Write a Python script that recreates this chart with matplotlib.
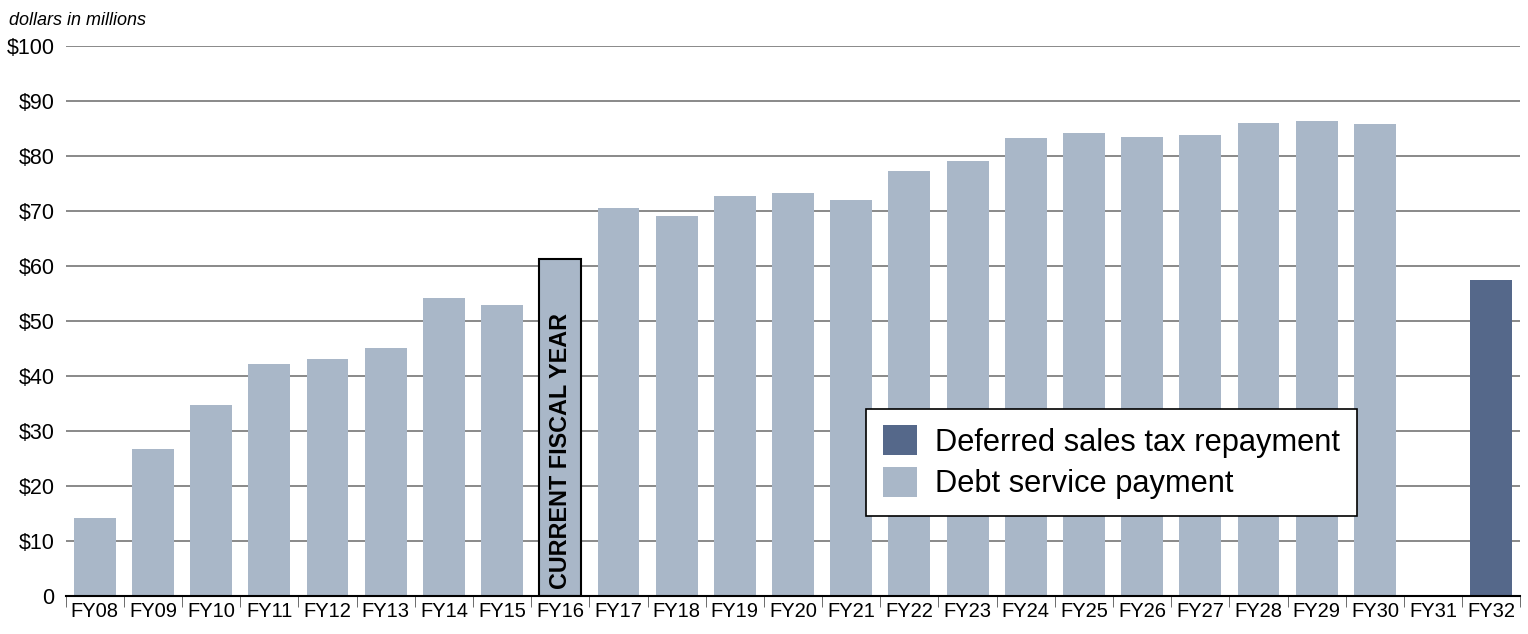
import matplotlib.pyplot as plt
import numpy as np
from matplotlib.patches import Patch

years = ['FY08', 'FY09', 'FY10', 'FY11', 'FY12', 'FY13', 'FY14', 'FY15', 'FY16',
         'FY17', 'FY18', 'FY19', 'FY20', 'FY21', 'FY22', 'FY23', 'FY24', 'FY25',
         'FY26', 'FY27', 'FY28', 'FY29', 'FY30', 'FY31', 'FY32']
debt_service = [14.2, 26.7, 34.7, 42.2, 43.1, 45.1, 54.2, 52.9, 61.3,
                70.5, 69.1, 72.7, 73.3, 72.0, 77.3, 79.1, 83.3, 84.2,
                83.5, 83.8, 86.0, 86.4, 85.8, 0, 0]
deferred_tax = [0, 0, 0, 0, 0, 0, 0, 0, 0,
                0, 0, 0, 0, 0, 0, 0, 0, 0,
                0, 0, 0, 0, 0, 0, 57.5]
yticks = [0, 10, 20, 30, 40, 50, 60, 70, 80, 90, 100]
ylabels = ['0', '$10', '$20', '$30', '$40', '$50', '$60', '$70', '$80', '$90', '$100']
current_year = 'FY16'

plt.rcParams['font.family'] = ['Liberation Sans', 'DejaVu Sans']

light = '#a9b7c8'
dark = '#55688a'

fig = plt.figure(figsize=(15.28, 6.34), dpi=100)
ax = fig.add_axes([0.043, 0.06, 0.952, 0.867])

x = np.arange(len(years))
ax.bar(x, debt_service, width=0.72, color=light, zorder=2)
ax.bar(x, deferred_tax, width=0.72, bottom=debt_service, color=dark, zorder=2)

# outline + label on the current fiscal year
ci = years.index(current_year)
ax.bar(ci, debt_service[ci], width=0.72, facecolor='none', edgecolor='black',
       linewidth=1.5, zorder=3)
ax.text(ci, 1.2, 'CURRENT FISCAL YEAR', rotation=90, ha='center', va='bottom',
        fontsize=16.8, fontweight='bold', color='black', zorder=4)

ax.set_xlim(-0.5, len(years) - 0.5)
ax.set_ylim(0, 100)
ax.set_yticks(yticks)
ax.set_yticklabels(ylabels, fontsize=15.5)
ax.yaxis.grid(True, color='#808080', linewidth=1.3, zorder=0)
ax.tick_params(axis='y', length=0, pad=8)

ax.set_xticks(x)
ax.set_xticklabels(years, fontsize=14.5)
ax.set_xticks(np.arange(-0.5, len(years), 1), minor=True)
ax.tick_params(axis='x', which='major', length=0, pad=4)
ax.tick_params(axis='x', which='minor', length=8, direction='out', color='#555555')

for s in ['top', 'right', 'left']:
    ax.spines[s].set_visible(False)
ax.spines['bottom'].set_linewidth(1.5)

fig.text(0.006, 0.968, 'dollars in millions', fontsize=13, style='italic', ha='left', va='center')

handles = [Patch(facecolor=dark, label='Deferred sales tax repayment'),
           Patch(facecolor=light, label='Debt service payment')]
leg = ax.legend(handles=handles, loc='lower left', bbox_to_anchor=(0.550, 0.145),
                fontsize=22.2, frameon=True, fancybox=False, edgecolor='black',
                framealpha=1, handlelength=1.1, handleheight=1.1, handletextpad=0.6,
                borderpad=0.55, labelspacing=0.3, borderaxespad=0)
leg.get_frame().set_linewidth(1.2)
leg.set_zorder(5)

fig.savefig('out.png', dpi=100, facecolor='white')
